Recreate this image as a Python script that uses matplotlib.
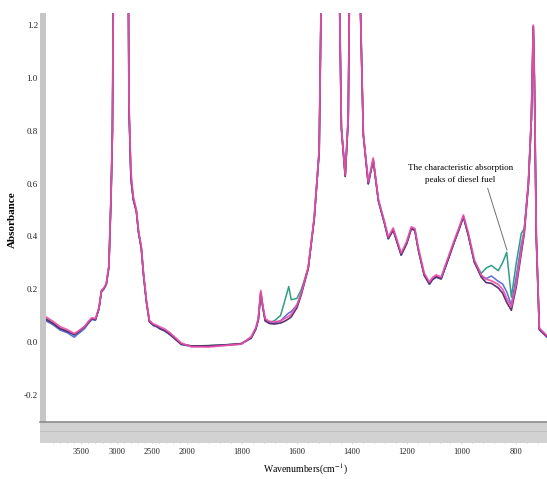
import numpy as np
import matplotlib
matplotlib.use('Agg')
import matplotlib.pyplot as plt
from matplotlib.patches import Rectangle
from matplotlib.lines import Line2D

# ---------------- data ----------------
wavenumber = [4000, 3900, 3800, 3700, 3600, 3550, 3500, 3450, 3400, 3350,
              3300, 3250, 3216, 3180, 3146, 3110, 3080, 3060, 3040, 2840,
              2825, 2800, 2790, 2764, 2721, 2690, 2651, 2620, 2580, 2537,
              2480, 2438, 2380, 2325, 2250, 2184, 2085, 1985, 1923, 1850,
              1803, 1767, 1750, 1741, 1732, 1725, 1716, 1700, 1683, 1660,
              1646, 1630, 1621, 1600, 1584, 1559, 1537, 1519, 1508, 1449,
              1438, 1424, 1413, 1406, 1376, 1358, 1340, 1322, 1303, 1282,
              1267, 1249, 1220, 1200, 1183, 1170, 1158, 1136, 1117, 1105,
              1092, 1074, 1048, 1026, 1010, 993, 975, 953, 928, 910,
              891, 866, 850, 835, 818, 800, 782, 771, 756, 745,
              738, 734, 727, 716, 698, 683]

abs_pink = [0.095, 0.078, 0.058, 0.047, 0.032, 0.040, 0.050, 0.060, 0.078, 0.092,
            0.088, 0.130, 0.195, 0.205, 0.222, 0.290, 0.550, 0.800, 1.600, 1.600,
            0.900, 0.660, 0.620, 0.550, 0.500, 0.420, 0.360, 0.260, 0.160, 0.082,
            0.068, 0.064, 0.056, 0.050, 0.036, 0.020, -0.004, -0.018, -0.019, -0.012,
            -0.008, 0.020, 0.055, 0.090, 0.195, 0.140, 0.088, 0.078, 0.076, 0.080,
            0.088, 0.098, 0.105, 0.140, 0.186, 0.284, 0.473, 0.727, 1.600, 1.600,
            0.814, 0.633, 0.852, 1.600, 1.600, 0.790, 0.606, 0.697, 0.540, 0.460,
            0.398, 0.432, 0.337, 0.380, 0.436, 0.430, 0.360, 0.261, 0.227, 0.245,
            0.254, 0.246, 0.322, 0.386, 0.430, 0.481, 0.413, 0.311, 0.254, 0.238,
            0.232, 0.218, 0.200, 0.165, 0.133, 0.223, 0.348, 0.420, 0.602, 0.850,
            1.200, 1.000, 0.400, 0.053, 0.034, 0.019]

abs_purple = [0.085, 0.070, 0.050, 0.040, 0.028, 0.036, 0.048, 0.058, 0.075, 0.088,
              0.085, 0.128, 0.192, 0.203, 0.220, 0.285, 0.545, 0.795, 1.600, 1.600,
              0.880, 0.640, 0.600, 0.540, 0.495, 0.415, 0.355, 0.255, 0.155, 0.078,
              0.064, 0.060, 0.050, 0.044, 0.030, 0.015, -0.008, -0.015, -0.014, -0.010,
              -0.006, 0.016, 0.050, 0.085, 0.188, 0.135, 0.080, 0.070, 0.068, 0.072,
              0.078, 0.088, 0.095, 0.130, 0.180, 0.278, 0.468, 0.722, 1.600, 1.600,
              0.810, 0.628, 0.848, 1.600, 1.600, 0.785, 0.600, 0.690, 0.535, 0.455,
              0.392, 0.425, 0.330, 0.373, 0.430, 0.424, 0.353, 0.254, 0.220, 0.238,
              0.247, 0.240, 0.315, 0.380, 0.424, 0.475, 0.405, 0.303, 0.246, 0.225,
              0.222, 0.205, 0.185, 0.150, 0.120, 0.210, 0.335, 0.410, 0.595, 0.845,
              1.195, 0.995, 0.395, 0.048, 0.030, 0.015]

abs_green = [0.090, 0.072, 0.052, 0.042, 0.025, 0.034, 0.046, 0.056, 0.074, 0.088,
             0.084, 0.127, 0.190, 0.202, 0.219, 0.285, 0.545, 0.795, 1.600, 1.600,
             0.880, 0.640, 0.600, 0.540, 0.495, 0.415, 0.355, 0.255, 0.155, 0.078,
             0.064, 0.060, 0.050, 0.044, 0.030, 0.015, -0.008, -0.015, -0.014, -0.010,
             -0.006, 0.016, 0.050, 0.085, 0.188, 0.135, 0.082, 0.074, 0.080, 0.100,
             0.150, 0.210, 0.160, 0.165, 0.200, 0.280, 0.468, 0.722, 1.600, 1.600,
             0.810, 0.628, 0.848, 1.600, 1.600, 0.785, 0.600, 0.690, 0.535, 0.455,
             0.392, 0.425, 0.330, 0.373, 0.430, 0.424, 0.353, 0.254, 0.220, 0.238,
             0.247, 0.240, 0.315, 0.380, 0.424, 0.475, 0.405, 0.303, 0.260, 0.280,
             0.290, 0.270, 0.300, 0.340, 0.170, 0.300, 0.410, 0.430, 0.600, 0.845,
             1.195, 0.995, 0.395, 0.048, 0.030, 0.015]

abs_blue = [0.080, 0.065, 0.045, 0.035, 0.018, 0.030, 0.040, 0.052, 0.070, 0.085,
            0.082, 0.125, 0.190, 0.200, 0.218, 0.283, 0.543, 0.793, 1.600, 1.600,
            0.878, 0.638, 0.598, 0.538, 0.493, 0.413, 0.353, 0.253, 0.153, 0.076,
            0.062, 0.058, 0.048, 0.042, 0.028, 0.013, -0.010, -0.017, -0.016, -0.012,
            -0.008, 0.014, 0.048, 0.083, 0.185, 0.133, 0.080, 0.072, 0.072, 0.080,
            0.095, 0.110, 0.115, 0.140, 0.185, 0.278, 0.466, 0.720, 1.600, 1.600,
            0.808, 0.626, 0.846, 1.600, 1.600, 0.783, 0.598, 0.688, 0.533, 0.453,
            0.390, 0.423, 0.328, 0.371, 0.428, 0.422, 0.351, 0.252, 0.218, 0.236,
            0.245, 0.238, 0.313, 0.378, 0.422, 0.473, 0.403, 0.301, 0.250, 0.240,
            0.250, 0.230, 0.220, 0.190, 0.140, 0.250, 0.370, 0.420, 0.598, 0.843,
            1.193, 0.993, 0.393, 0.046, 0.028, 0.013]

xtick_values = [3500, 3000, 2500, 2000, 1800, 1600, 1400, 1200, 1000, 800]
xtick_labels = ['3500', '3000', '2500', '2000', '1800', '1600', '1400', '1200', '1000', '800']
ytick_values = [-0.2, 0.0, 0.2, 0.4, 0.6, 0.8, 1.0, 1.2]
ytick_labels = ['-0.2', '0.0', '0.2', '0.4', '0.6', '0.8', '1.0', '1.2']
xminor_values = list(range(3900, 2000, -100)) + list(range(1960, 680, -40))

annotation_text = "The characteristic absorption\npeaks of diesel fuel"
annotation_xy = (834, 0.348)
annotation_text_xy = (1005, 0.636)

# ---------------- style ----------------
plt.rcParams['font.family'] = ['Liberation Serif', 'DejaVu Serif']
plt.rcParams['mathtext.fontset'] = 'stix'

BREAK = 2000.0
RATIO = 3.88


def fwd(w):
    w = np.asarray(w, dtype=float)
    return np.where(w >= BREAK, w, BREAK + (w - BREAK) * RATIO)


def inv(u):
    u = np.asarray(u, dtype=float)
    return np.where(u >= BREAK, u, BREAK + (u - BREAK) / RATIO)


fig = plt.figure(figsize=(5.47, 4.79), dpi=100)
ax = fig.add_axes([46 / 547, 57 / 479, 501 / 547, 409 / 479])
ax.set_xscale('function', functions=(fwd, inv))

ax.plot(wavenumber, abs_green, color='#2f9e86', lw=1.1, zorder=2)
ax.plot(wavenumber, abs_blue, color='#5a6fd6', lw=1.1, zorder=2)
ax.plot(wavenumber, abs_purple, color='#5b2f72', lw=1.2, zorder=3)
ax.plot(wavenumber, abs_pink, color='#ee4fa8', lw=1.3, alpha=0.9, zorder=4)

ax.set_xlim(4000, 688)
ax.set_ylim(-0.303, 1.246)

for s in ax.spines.values():
    s.set_visible(False)

# gray frame bars (axis decorations)
bar_w = 6 / 501
band_h = 21 / 409
ax.add_patch(Rectangle((-bar_w, -band_h), bar_w, 1 + band_h, transform=ax.transAxes,
                       facecolor='#c6c6c6', edgecolor='none', clip_on=False, zorder=5))
ax.add_patch(Rectangle((-bar_w, -band_h), 1 + bar_w + 0.01, band_h, transform=ax.transAxes,
                       facecolor='#d2d2d2', edgecolor='none', clip_on=False, zorder=5))
ax.add_line(Line2D([-bar_w, 1.01], [0, 0], transform=ax.transAxes, color='#8c8c8c',
                   lw=1.2, clip_on=False, zorder=6))
ax.add_line(Line2D([-bar_w, 1.01], [-band_h * 0.45, -band_h * 0.45], transform=ax.transAxes,
                   color='#bdbdbd', lw=0.6, clip_on=False, zorder=6))

ax.spines['bottom'].set_position(('outward', 15))
ax.spines['left'].set_position(('outward', 4.3))

ax.set_xticks(xtick_values)
ax.set_xticklabels(xtick_labels)
ax.set_xticks(xminor_values, minor=True)
ax.tick_params(axis='x', which='major', direction='in', length=4, width=0.6,
               color='#8f8f8f', pad=4, labelsize=6, labelcolor='#222222')
ax.tick_params(axis='x', which='minor', direction='in', length=2.5, width=0.5,
               color='#a5a5a5')
for t in ax.xaxis.get_major_ticks() + ax.xaxis.get_minor_ticks():
    t.tick1line.set_zorder(7)

ax.set_yticks(ytick_values)
ax.set_yticklabels(ytick_labels)
ax.tick_params(axis='y', which='major', direction='in', length=2.5, width=0.6,
               color='#555555', pad=1.5, labelsize=6.5, labelcolor='#222222')

ax.set_xlabel(r'Wavenumbers(cm$^{-1}$)', fontsize=7)
ax.xaxis.set_label_coords(0.517, -0.098)
ax.set_ylabel('Absorbance', fontsize=8, fontweight='bold')
ax.yaxis.set_label_coords(-0.058, 0.494)

ax.annotate(annotation_text, xy=annotation_xy, xytext=annotation_text_xy,
            ha='center', va='center', fontsize=6.5, linespacing=1.7,
            arrowprops=dict(arrowstyle='-', color='#707070', lw=0.7,
                            relpos=(0.75, 0.0), shrinkA=1, shrinkB=0),
            zorder=8)

fig.savefig('out.png', dpi=100)
